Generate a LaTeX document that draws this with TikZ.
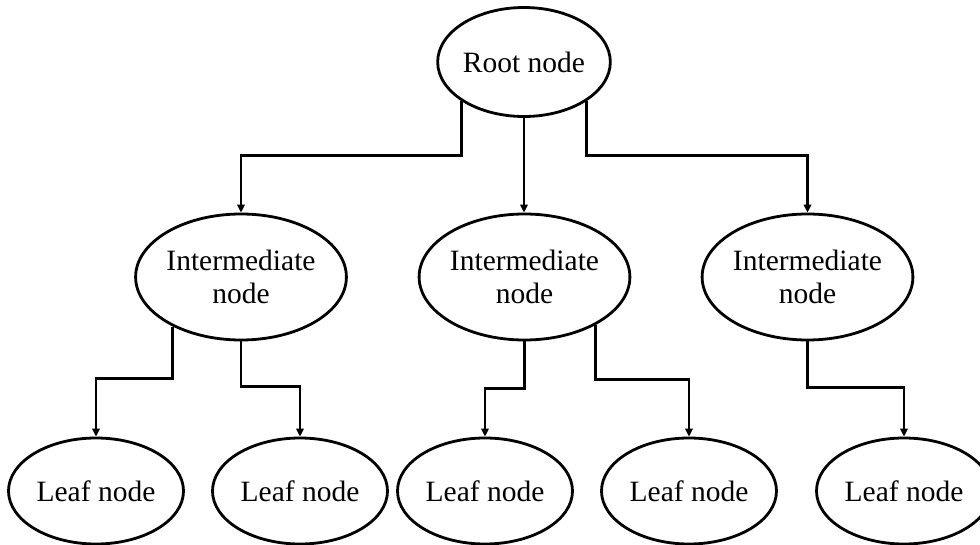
\documentclass[tikz,border=0pt]{standalone}
\usepackage{fontspec}
\setmainfont{Liberation Serif}
\usetikzlibrary{shapes.geometric,arrows.meta}
\begin{document}
\begin{tikzpicture}[x=1pt,y=1pt,
  every node/.style={font=\fontsize{29.5}{33}\selectfont},
  tnode/.style={ellipse,draw,line width=2.8pt,inner sep=0pt,align=center},
  rootnode/.style={tnode,minimum width=168pt,minimum height=109pt},
  midnode/.style={tnode,minimum width=194pt,minimum height=126pt},
  leafnode/.style={tnode,minimum width=175pt,minimum height=106pt},
  link/.style={line width=2.8pt,-{Triangle[length=8pt,width=7.5pt]}}]
\useasboundingbox (0,0) rectangle (980,544);

% levels of the tree
\node[rootnode] (root) at (524,482) {Root node};
\node[midnode] (i1) at (241,267) {Intermediate\\node};
\node[midnode] (i2) at (524.5,267) {Intermediate\\node};
\node[midnode] (i3) at (807.5,267) {Intermediate\\node};
\node[leafnode] (l1) at (96,53) {Leaf node};
\node[leafnode] (l2) at (300,53) {Leaf node};
\node[leafnode] (l3) at (485,53) {Leaf node};
\node[leafnode] (l4) at (689,53) {Leaf node};
\node[leafnode] (l5) at (904,53) {Leaf node};

% root to intermediate nodes
\draw[link] (root.-148) |- ([yshift=57pt]i1.north) -- (i1.north);
\draw[link] (root.south) -- (root.south |- i2.north);
\draw[link] (root.-32) |- ([yshift=57pt]i3.north) -- (i3.north);

% intermediate nodes to leaves
\draw[link] (i1.-144) |- ([yshift=58pt]l1.north) -- (l1.north);
\draw[link] (i1.south) |- ([yshift=50pt]l2.north) -- (l2.north);
\draw[link] (i2.south) |- ([yshift=48pt]l3.north) -- (l3.north);
\draw[link] (i2.-34) |- ([yshift=57pt]l4.north) -- (l4.north);
\draw[link] (i3.south) |- ([yshift=49pt]l5.north) -- (l5.north);
\end{tikzpicture}
\end{document}
